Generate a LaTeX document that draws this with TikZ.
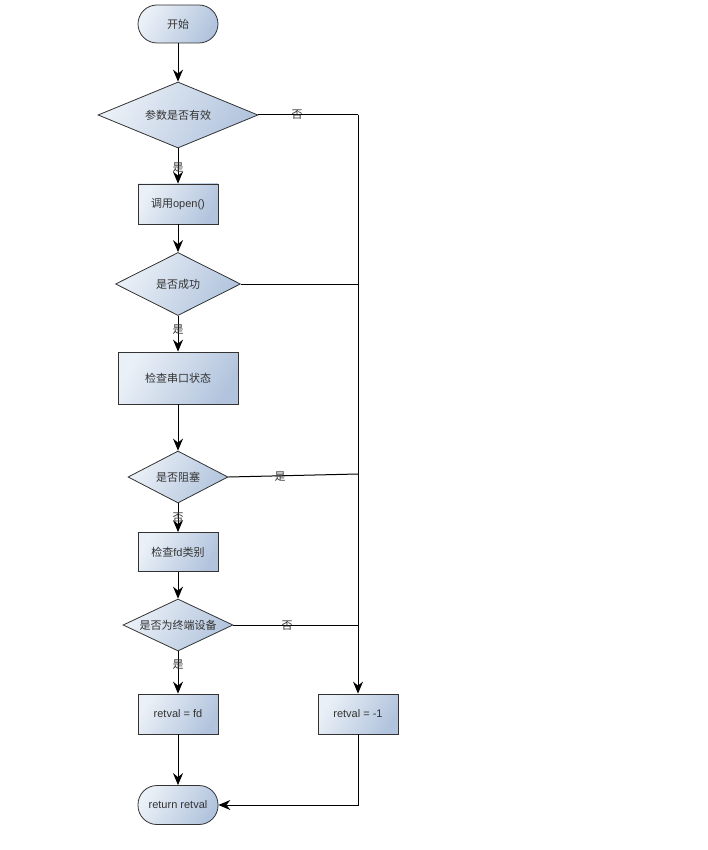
\documentclass[tikz,border=0pt]{standalone}
\usepackage{fontspec}
\setmainfont{Liberation Sans}
\newfontfamily\cjk{Noto Sans CJK SC}
\usetikzlibrary{shapes.geometric,arrows.meta}
\definecolor{boxlight}{HTML}{EAF0F7}
\definecolor{boxdark}{HTML}{B2C4DD}
\definecolor{edge}{HTML}{333333}
\newcommand{\zh}{\cjk\fontsize{11}{13}\selectfont}
\tikzset{
  fillgrad/.style={draw=edge, line width=0.8pt, shading=axis, left color=boxlight, right color=boxdark, shading angle=60, text=edge, font=\fontsize{11}{13}\selectfont},
  procbox/.style={fillgrad, rectangle, minimum width=80pt, minimum height=40pt, inner sep=0pt},
  termbox/.style={fillgrad, rectangle, rounded corners=19pt, minimum width=80pt, minimum height=38pt, inner sep=0pt},
  testbox/.style={fillgrad, diamond, inner sep=0pt},
  flow/.style={black, line width=1pt, -{Stealth[length=12pt,width=10pt,inset=4pt]}},
  yesno/.style={font=\zh, text=edge, inner sep=0pt}
}
\begin{document}
\begin{tikzpicture}[x=1pt,y=-1pt]
\useasboundingbox (0,0) rectangle (707,850);

\node[termbox] (start) at (178,24) {\zh 开始};
\node[testbox, minimum width=160pt, minimum height=66pt, aspect=2.4] (valid) at (178,115) {\zh 参数是否有效};
\node[procbox] (open) at (178,204) {{\zh 调用}open()};
\node[testbox, minimum width=125pt, minimum height=63pt, aspect=2] (ok) at (178,284) {\zh 是否成功};
\node[procbox, minimum width=120pt, minimum height=52pt] (state) at (178,378) {\zh 检查串口状态};
\node[testbox, minimum width=100pt, minimum height=52pt, aspect=1.9] (block) at (178,477) {\zh 是否阻塞};
\node[procbox, minimum height=39pt] (kind) at (178,552) {{\zh 检查}fd{\zh 类别}};
\node[testbox, minimum width=110pt, minimum height=52pt, aspect=2.1, inner sep=-6pt] (tty) at (178,625) {\zh 是否为终端设备};
\node[procbox] (setfd) at (178,714) {retval = fd};
\node[procbox] (seterr) at (358,714) {retval = -1};
\node[termbox, minimum height=39pt] (finish) at (178,805) {return retval};

\coordinate (j1) at (358,115);
\coordinate (j2) at (358,284);
\coordinate (j3) at (358,474);
\coordinate (j4) at (358,625);

\draw[flow] (start) -- (valid);
\draw[flow] (valid) -- (open);
\draw[flow] (open) -- (ok);
\draw[flow] (ok) -- (state);
\draw[flow] (state) -- (block);
\draw[flow] (block) -- (kind);
\draw[flow] (kind) -- (tty);
\draw[flow] (tty) -- (setfd);
\draw[flow] (setfd) -- (finish);

\draw[black, line width=1pt] (valid.east) -- (j1);
\draw[black, line width=1pt] (ok.east) -- (j2);
\draw[black, line width=1pt] (block.east) -- (j3);
\draw[black, line width=1pt] (tty.east) -- (j4);
\draw[flow] (j1) -- (seterr);
\draw[flow] (seterr) |- (finish);

\node[yesno] (no1) at (297,115) {否};
\node[yesno] (yes1) at (178,168) {是};
\node[yesno] (yes2) at (178,330) {是};
\node[yesno] (yes3) at (280,477) {是};
\node[yesno] (no3) at (178,518) {否};
\node[yesno] (no4) at (287,626) {否};
\node[yesno] (yes4) at (178,665) {是};
\end{tikzpicture}
\end{document}
